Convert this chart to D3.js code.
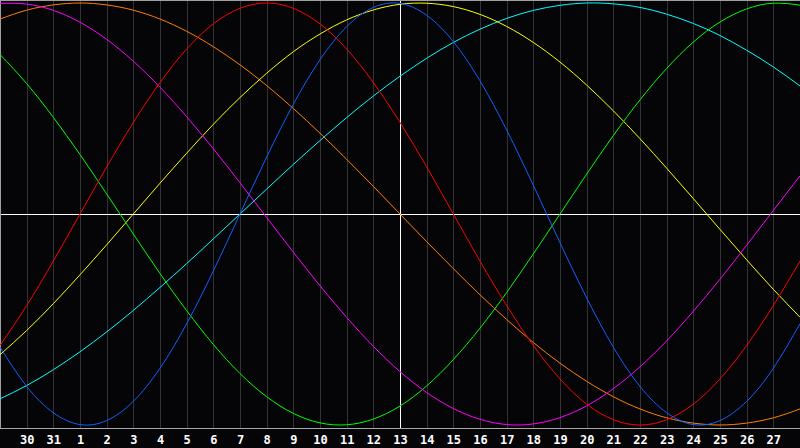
<!DOCTYPE html>
<html>
<head>
<meta charset="utf-8">
<script src="https://cdn.jsdelivr.net/npm/d3@7"></script>
<style>
  html, body { margin: 0; padding: 0; background: #050508; }
  svg { display: block; }
</style>
</head>
<body>
<div id="chart"></div>
<script>
// jours affichés (du 29 au 28 du mois suivant), index 0..30
const days = [29, 30, 31, 1, 2, 3, 4, 5, 6, 7, 8, 9, 10, 11, 12, 13, 14, 15, 16, 17, 18, 19, 20, 21, 22, 23, 24, 25, 26, 27, 28];
const todayIndex = 15; // le 13

// valeurs, de -1 à 1, une par jour
const red = [-0.623, -0.434, -0.223, 0, 0.223, 0.434, 0.623, 0.782, 0.901, 0.975, 1, 0.975, 0.901, 0.782, 0.623, 0.434, 0.223, 0, -0.223, -0.434, -0.623, -0.782, -0.901, -0.975, -1, -0.975, -0.901, -0.782, -0.623, -0.434, -0.223];
const blue = [-0.631, -0.817, -0.942, -0.998, -0.979, -0.888, -0.731, -0.520, -0.270, 0, 0.270, 0.520, 0.731, 0.888, 0.979, 0.998, 0.942, 0.817, 0.631, 0.398, 0.136, -0.136, -0.398, -0.631, -0.817, -0.942, -0.998, -0.979, -0.888, -0.731, -0.520];
const green = [0.756, 0.618, 0.458, 0.282, 0.095, -0.095, -0.282, -0.458, -0.618, -0.756, -0.866, -0.945, -0.990, -0.999, -0.972, -0.910, -0.815, -0.690, -0.541, -0.372, -0.189, 0, 0.189, 0.372, 0.541, 0.690, 0.815, 0.910, 0.972, 0.999, 0.990];
const yellow = [-0.667, -0.552, -0.425, -0.288, -0.146, 0, 0.146, 0.288, 0.425, 0.552, 0.667, 0.769, 0.853, 0.920, 0.967, 0.994, 0.999, 0.983, 0.946, 0.889, 0.813, 0.720, 0.611, 0.489, 0.357, 0.217, 0.073, -0.073, -0.217, -0.357, -0.489];
const orange = [0.924, 0.966, 0.991, 1, 0.991, 0.966, 0.924, 0.866, 0.793, 0.707, 0.609, 0.5, 0.383, 0.259, 0.131, 0, -0.131, -0.259, -0.383, -0.5, -0.609, -0.707, -0.793, -0.866, -0.924, -0.966, -0.991, -1, -0.991, -0.966, -0.924];
const magenta = [0.998, 0.995, 0.965, 0.909, 0.828, 0.724, 0.601, 0.461, 0.309, 0.148, -0.017, -0.181, -0.340, -0.490, -0.627, -0.747, -0.846, -0.922, -0.973, -0.998, -0.995, -0.965, -0.909, -0.828, -0.724, -0.601, -0.461, -0.309, -0.148, 0.017, 0.181];
const cyan = [-0.876, -0.813, -0.738, -0.653, -0.559, -0.457, -0.348, -0.235, -0.118, 0, 0.118, 0.235, 0.348, 0.457, 0.559, 0.653, 0.738, 0.813, 0.876, 0.927, 0.965, 0.989, 1, 0.996, 0.979, 0.947, 0.903, 0.846, 0.776, 0.697, 0.607];

const series = [
  { name: "cyan", values: cyan, color: "#00ffff" },
  { name: "orange", values: orange, color: "#ff8000" },
  { name: "yellow", values: yellow, color: "#ffff00" },
  { name: "green", values: green, color: "#00ff00" },
  { name: "magenta", values: magenta, color: "#ff00ff" },
  { name: "red", values: red, color: "#ff0000" },
  { name: "blue", values: blue, color: "#1060ff" }
];

const width = 800,
    height = 448,
    plotBottom = 428;

const x = d3.scaleLinear().domain([0, days.length - 1]).range([0, width]);
const y = d3.scaleLinear().domain([-1, 1]).range([425, 3]);

const svg = d3.select("#chart").append("svg")
    .attr("width", width)
    .attr("height", height);

svg.append("rect")
    .attr("width", width)
    .attr("height", height)
    .attr("fill", "#050508");

// lignes verticales des jours
const inner = d3.range(1, days.length - 1);
svg.append("g")
    .selectAll("line")
    .data(inner)
    .enter().append("line")
    .attr("x1", d => Math.round(x(d)) + 0.5)
    .attr("x2", d => Math.round(x(d)) + 0.5)
    .attr("y1", 1)
    .attr("y2", plotBottom)
    .attr("stroke", "#333336")
    .attr("shape-rendering", "crispEdges");

// axe du bas : libellés des jours
const axis = d3.axisBottom(x)
    .tickValues(inner)
    .tickFormat(i => days[i])
    .tickSize(0)
    .tickPadding(7);

const gAxis = svg.append("g")
    .attr("transform", "translate(0," + plotBottom + ")")
    .call(axis);
gAxis.select(".domain").remove();
gAxis.selectAll("text")
    .attr("fill", "#ffffff")
    .style("font-family", "'DejaVu Sans Mono', monospace")
    .style("font-weight", "bold")
    .style("font-size", "12px");

// cadre gris
svg.append("line")
    .attr("x1", 0).attr("x2", width)
    .attr("y1", plotBottom + 0.5).attr("y2", plotBottom + 0.5)
    .attr("stroke", "#a8a8a8")
    .attr("stroke-width", 1.5)
    .attr("shape-rendering", "crispEdges");
svg.append("line")
    .attr("x1", 0).attr("x2", width)
    .attr("y1", 0.5).attr("y2", 0.5)
    .attr("stroke", "#a0a0a0")
    .attr("shape-rendering", "crispEdges");
svg.append("line")
    .attr("x1", 0.5).attr("x2", 0.5)
    .attr("y1", 0).attr("y2", plotBottom)
    .attr("stroke", "#a0a0a0")
    .attr("stroke-width", 1.5)
    .attr("shape-rendering", "crispEdges");

// ligne du zéro et ligne d'aujourd'hui
svg.append("line")
    .attr("x1", 1).attr("x2", width)
    .attr("y1", Math.round(y(0)) + 0.5).attr("y2", Math.round(y(0)) + 0.5)
    .attr("stroke", "#ffffff")
    .attr("shape-rendering", "crispEdges");
svg.append("line")
    .attr("x1", Math.round(x(todayIndex)) + 0.5).attr("x2", Math.round(x(todayIndex)) + 0.5)
    .attr("y1", 1).attr("y2", plotBottom)
    .attr("stroke", "#ffffff")
    .attr("shape-rendering", "crispEdges");

// les courbes
const line = d3.line()
    .x((d, i) => x(i))
    .y(d => y(d))
    .curve(d3.curveNatural);

svg.append("g")
    .selectAll("path")
    .data(series)
    .enter().append("path")
    .attr("d", d => line(d.values))
    .attr("fill", "none")
    .attr("stroke", d => d.color)
    .attr("stroke-width", 1);
</script>
</body>
</html>
